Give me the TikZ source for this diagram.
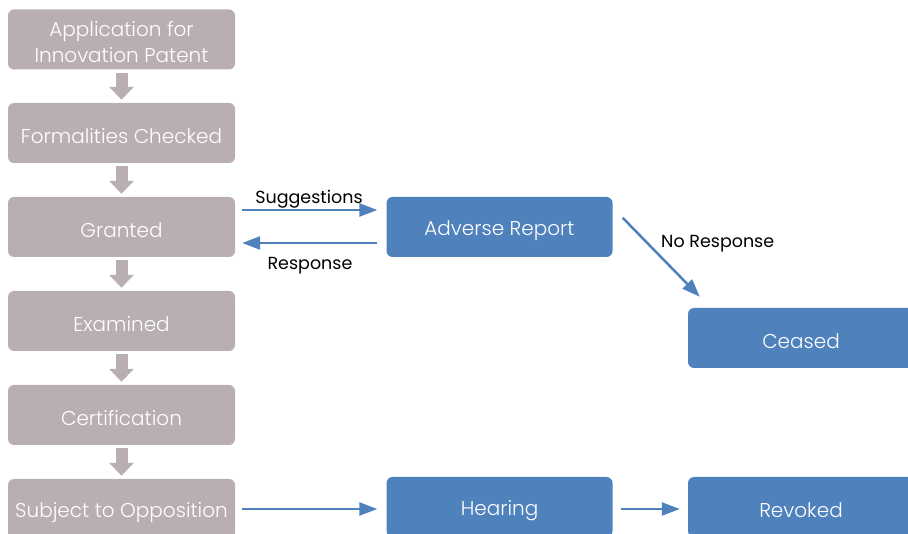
\documentclass[tikz,border=0pt]{standalone}
\usepackage{fontspec}
\setmainfont{Poppins}[UprightFont=* Light, BoldFont=* Regular]
\newfontfamily\labelfont{Poppins}
\usetikzlibrary{arrows.meta,calc}
\definecolor{boxgray}{HTML}{B9AFB0}
\definecolor{boxblue}{HTML}{4F81BD}
\newcommand\dnraise[2][-3.5pt]{\raisebox{#1}[\height][\depth]{#2}}
\begin{document}
\begin{tikzpicture}[x=1pt,y=-1pt,
  graybox/.style={fill=boxgray, draw=none, rounded corners=6pt, minimum width=227pt, minimum height=60pt, text=white, font=\fontsize{20}{26}\selectfont, inner sep=0pt},
  bluebox/.style={fill=boxblue, draw=none, rounded corners=6pt, minimum width=226pt, minimum height=60pt, text=white, font=\fontsize{20}{26}\selectfont, inner sep=0pt},
  grayarrow/.style={draw=boxgray, line width=12pt, -{Triangle[width=24pt,length=13pt]}},
  bluearrow/.style={draw=boxblue, line width=2.5pt, -{Triangle[width=13pt,length=18pt]}},
  lbl/.style={font=\labelfont\fontsize{17.5}{20}\selectfont, text=black, inner sep=0pt}
]
\useasboundingbox (0,0) rectangle (908,534);
\clip (0,0) rectangle (908,534);
\node[graybox] (app) at (121.5,39.5) {\dnraise[-4.5pt]{\begin{tabular}{@{}c@{}}Application for\\Innovation Patent\end{tabular}}};
\node[graybox] (form) at (121.5,133) {\dnraise{Formalities Checked}};
\node[graybox] (gr) at (121.5,227) {\dnraise{Granted}};
\node[graybox] (ex) at (121.5,321) {\dnraise{Examined}};
\node[graybox] (cert) at (121.5,415) {\dnraise{Certification}};
\node[graybox] (opp) at (121.5,509) {\dnraise{Subject to Opposition}};
\node[bluebox] (ar) at (499.5,227) {\dnraise{Adverse Report}};
\node[bluebox] (ce) at (801,338) {\dnraise{Ceased}};
\node[bluebox] (he) at (499.5,507) {\dnraise{Hearing}};
\node[bluebox] (rv) at (801,507) {\dnraise{Revoked}};
\foreach \a/\b in {app/form,form/gr,gr/ex,ex/cert,cert/opp}
  \draw[grayarrow] ($(\a.south)+(0,3)$) -- ($(\b.north)+(0,-3)$);
\draw[bluearrow] ($(gr.east)+(7,-17)$) -- ($(ar.west)+(-9,-17)$);
\draw[bluearrow] ($(ar.west)+(-9,16)$) -- ($(gr.east)+(7,16)$);
\draw[bluearrow] ($(ar.north east)+(10,21)$) -- ($(ce.north west)+(12,-11)$);
\draw[bluearrow] ($(opp.east)+(7,0)$) -- ($(he.west)+(-9,2)$);
\draw[bluearrow] ($(he.east)+(8,2)$) -- ($(rv.west)+(-8,2)$);
\node[lbl] (sug) at (309,196) {\dnraise{Suggestions}};
\node[lbl] (resp) at (310,262) {\dnraise{Response}};
\node[lbl, anchor=west] (nr) at (661,240) {\dnraise{No Response}};
\end{tikzpicture}
\end{document}
